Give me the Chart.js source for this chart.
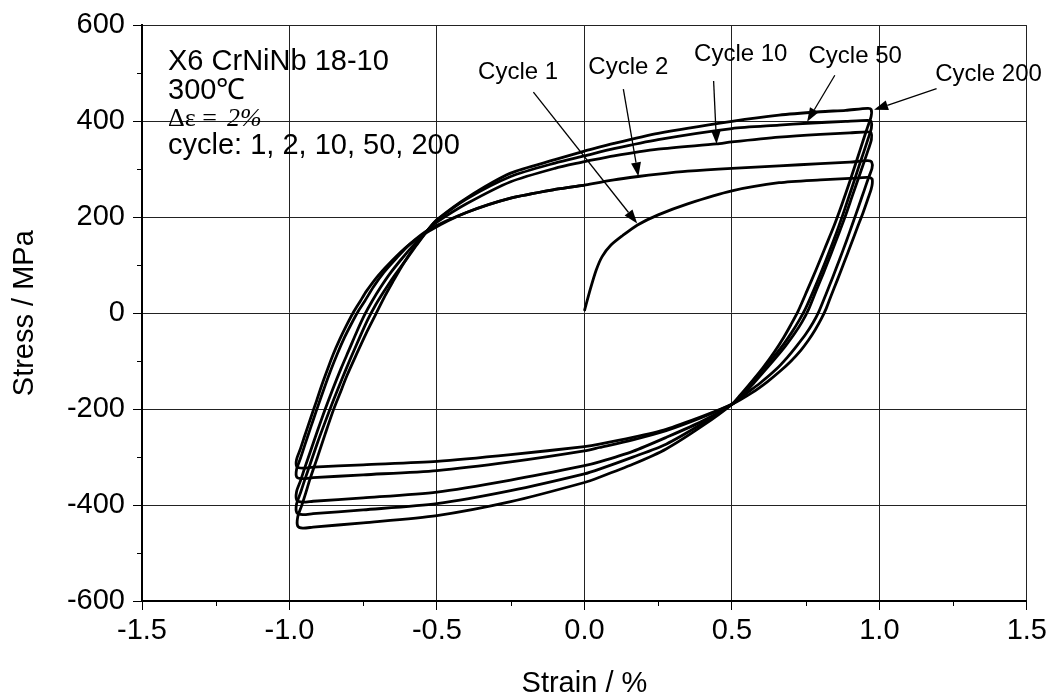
<!DOCTYPE html>
<html>
<head>
<meta charset="utf-8">
<script src="https://cdn.jsdelivr.net/npm/chart.js@4.4.1/dist/chart.umd.min.js"></script>
<style>
  html, body { margin: 0; padding: 0; background: #fff; }
  #HysteresisChart { display: block; }
</style>
</head>
<body>
<canvas id="HysteresisChart" width="1051" height="698"></canvas>
<script>
// hysteresis loops, strain in %, stress in MPa
var cycle1Strain = [0, 0.02, 0.04, 0.06, 0.09, 0.13, 0.18, 0.25, 0.35, 0.5, 0.66, 0.8, 0.9, 0.96, 0.975, 0.976, 0.972,
    0.962, 0.945, 0.925, 0.903, 0.88, 0.858, 0.836, 0.82, 0.803, 0.783, 0.76, 0.733, 0.7, 0.665, 0.62, 0.57, 0.5,
    0.4, 0.277, 0.164, 0.051, 0, -0.25, -0.5, -0.75, -0.92, -0.955, -0.975, -0.976,
    -0.963, -0.948, -0.93, -0.91, -0.89, -0.868, -0.852, -0.83, -0.808, -0.785, -0.76, -0.739, -0.7, -0.655, -0.6, -0.525,
    -0.4, -0.25, -0.1, 0];
var cycle1Stress = [5, 50, 90, 118, 142, 162, 184, 205, 228, 255, 272, 278, 281, 283, 280, 270, 258,
    240, 210, 178, 142, 105, 70, 36, 10, -12, -34, -56, -78, -100, -120, -143, -165, -190,
    -215, -242, -259, -273, -278, -295, -309, -316, -321, -323, -320, -305,
    -283, -255, -222, -186, -149, -112, -86, -55, -27, 0, 25, 46, 78, 108, 140, 172,
    210, 240, 258, 267];

var cycle2Strain = [0, 0.1, 0.182, 0.25, 0.35, 0.5, 0.66, 0.8, 0.9, 0.96, 0.974, 0.975,
    0.963, 0.948, 0.93, 0.91, 0.888, 0.865, 0.842, 0.818, 0.796, 0.775, 0.75, 0.72, 0.688, 0.65, 0.595, 0.545, 0.5,
    0.4, 0.277, 0.164, 0.051, 0, -0.25, -0.5, -0.75, -0.92, -0.955, -0.975, -0.976,
    -0.963, -0.947, -0.928, -0.907, -0.885, -0.862, -0.838, -0.813, -0.79, -0.768, -0.745, -0.715, -0.68, -0.64, -0.59, -0.525,
    -0.4, -0.25, -0.1, 0];
var cycle2Stress = [267, 278, 285, 290, 296, 302, 307, 312, 315, 318, 315, 302,
    282, 255, 223, 188, 150, 112, 75, 38, 5, -20, -44, -68, -92, -117, -146, -169, -190,
    -217, -245, -264, -280, -287, -310, -328, -337, -343, -345, -342, -326,
    -303, -273, -238, -200, -161, -122, -85, -50, -22, 3, 25, 55, 85, 113, 145, 175,
    210, 240, 258, 267];

var cycle10Strain = [0, 0.1, 0.25, 0.448, 0.5, 0.66, 0.8, 0.9, 0.96, 0.972, 0.973,
    0.963, 0.948, 0.93, 0.908, 0.885, 0.86, 0.835, 0.81, 0.785, 0.76, 0.738, 0.712, 0.682, 0.65, 0.615, 0.575, 0.538, 0.5,
    0.4, 0.277, 0.164, 0.051, 0, -0.25, -0.5, -0.75, -0.92, -0.955, -0.975, -0.976,
    -0.963, -0.948, -0.93, -0.905, -0.88, -0.853, -0.825, -0.797, -0.77, -0.745, -0.72, -0.69, -0.66, -0.62, -0.575, -0.525,
    -0.5, -0.4, -0.25, -0.1, 0];
var cycle10Stress = [316, 328, 342, 353, 357, 367, 373, 376, 378, 376, 362,
    342, 315, 283, 244, 203, 162, 122, 83, 46, 8, -18, -43, -68, -92, -117, -145, -170, -190,
    -225, -259, -288, -310, -318, -348, -373, -385, -392, -394, -390, -372,
    -350, -322, -290, -245, -202, -158, -115, -75, -36, -3, 25, 55, 82, 113, 145, 177,
    190, 228, 274, 302, 316];

var cycle50Strain = [0, 0.1, 0.25, 0.5, 0.66, 0.756, 0.886, 0.96, 0.972, 0.973,
    0.963, 0.948, 0.93, 0.906, 0.882, 0.857, 0.83, 0.803, 0.776, 0.75, 0.728, 0.703, 0.675, 0.643, 0.605, 0.565, 0.532, 0.5,
    0.4, 0.277, 0.164, 0.051, 0, -0.25, -0.5, -0.75, -0.92, -0.955, -0.975, -0.976,
    -0.963, -0.948, -0.93, -0.905, -0.878, -0.85, -0.822, -0.792, -0.763, -0.735, -0.71, -0.68, -0.648, -0.61, -0.568, -0.525,
    -0.5, -0.4, -0.25, -0.1, 0];
var cycle50Stress = [328, 343, 362, 385, 392, 396, 400, 402, 400, 386,
    366, 338, 305, 260, 216, 172, 128, 86, 46, 10, -15, -40, -65, -90, -117, -146, -170, -190,
    -230, -273, -300, -325, -335, -370, -397, -410, -418, -420, -416, -398,
    -375, -347, -315, -270, -225, -180, -137, -93, -52, -14, 15, 45, 75, 107, 143, 178,
    194, 238, 285, 313, 328];

var cycle200Strain = [0, 0.1, 0.25, 0.5, 0.66, 0.8, 0.886, 0.96, 0.972, 0.972,
    0.96, 0.945, 0.925, 0.9, 0.872, 0.845, 0.815, 0.785, 0.755, 0.725, 0.7, 0.676, 0.645, 0.605, 0.56, 0.528, 0.5,
    0.4, 0.277, 0.164, 0.051, 0, -0.25, -0.5, -0.75, -0.92, -0.955, -0.972, -0.972,
    -0.958, -0.945, -0.93, -0.905, -0.878, -0.85, -0.83, -0.805, -0.773, -0.74, -0.708, -0.677, -0.65, -0.62, -0.58, -0.525,
    -0.5, -0.4, -0.25, -0.1, 0];
var cycle200Stress = [338, 354, 375, 400, 413, 420, 423, 427, 425, 410,
    388, 360, 322, 275, 225, 180, 135, 90, 47, 5, -24, -50, -80, -114, -148, -171, -190,
    -235, -283, -315, -342, -353, -393, -422, -437, -446, -448, -444, -425,
    -400, -375, -345, -300, -250, -200, -169, -130, -86, -42, -3, 35, 65, 97, 135, 178,
    195, 240, 292, 320, 338];

var cycleNames = ['Cycle 1', 'Cycle 2', 'Cycle 10', 'Cycle 50', 'Cycle 200'];
var infoLines = ['X6 CrNiNb 18-10', '300\u2103', '\u0394\u03b5 = ', '2%', 'cycle: 1, 2, 10, 50, 200'];
var minorStrainTicks = [-1.25, -0.75, -0.25, 0.25, 0.75, 1.25];
var minorStressTicks = [-500, -300, -100, 100, 300, 500];

// where the cycle labels and their arrows sit, in axis units
var callouts = [
    { text: cycleNames[0], label: [-0.225, 503], tail: [-0.173, 461], tip: [0.179, 187] },
    { text: cycleNames[1], label: [0.149, 513], tail: [0.132, 467], tip: [0.183, 285] },
    { text: cycleNames[2], label: [0.53, 540], tail: [0.438, 484], tip: [0.448, 353] },
    { text: cycleNames[3], label: [0.918, 536], tail: [0.849, 496], tip: [0.755, 399] },
    { text: cycleNames[4], label: [1.37, 498], tail: [1.194, 468], tip: [0.982, 424] }
];

var sansFont = "'Liberation Sans', Arial, sans-serif";
var serifFont = "'Liberation Serif', 'Times New Roman', serif";

function toPoints(strain, stress) {
    return strain.map(function (s, i) { return { x: s, y: stress[i] }; });
}

function loop(name, strain, stress) {
    return {
        label: name,
        data: toPoints(strain, stress),
        showLine: true,
        borderColor: '#000',
        borderWidth: 2.8,
        pointRadius: 0,
        tension: 0.25,
        fill: false
    };
}

function drawArrow(ctx, x1, y1, x2, y2) {
    var ang = Math.atan2(y2 - y1, x2 - x1);
    var head = 14, half = 5;
    var bx = x2 - head * Math.cos(ang), by = y2 - head * Math.sin(ang);
    ctx.beginPath();
    ctx.moveTo(x1, y1);
    ctx.lineTo(bx, by);
    ctx.stroke();
    ctx.beginPath();
    ctx.moveTo(x2, y2);
    ctx.lineTo(bx + half * Math.sin(ang), by - half * Math.cos(ang));
    ctx.lineTo(bx - half * Math.sin(ang), by + half * Math.cos(ang));
    ctx.closePath();
    ctx.fill();
}

var annotationPlugin = {
    id: 'annotations',
    afterDraw: function (chart) {
        var ctx = chart.ctx, xs = chart.scales.x, ys = chart.scales.y, area = chart.chartArea;
        ctx.save();

        // minor ticks outside the frame
        ctx.strokeStyle = '#000';
        ctx.lineWidth = 1;
        minorStrainTicks.forEach(function (v) {
            var px = Math.round(xs.getPixelForValue(v)) + 0.5;
            ctx.beginPath();
            ctx.moveTo(px, area.bottom);
            ctx.lineTo(px, area.bottom + 5);
            ctx.stroke();
        });
        minorStressTicks.forEach(function (v) {
            var py = Math.round(ys.getPixelForValue(v)) + 0.5;
            ctx.beginPath();
            ctx.moveTo(area.left, py);
            ctx.lineTo(area.left - 5, py);
            ctx.stroke();
        });

        // material info block
        ctx.fillStyle = '#000';
        ctx.textAlign = 'left';
        ctx.textBaseline = 'alphabetic';
        var left = area.left + 26;
        ctx.font = '29px ' + sansFont;
        ctx.fillText(infoLines[0], left, area.top + 45);
        ctx.fillText(infoLines[1], left, area.top + 74);
        ctx.font = '26px ' + serifFont;
        ctx.fillText(infoLines[2], left, area.top + 101);
        ctx.font = 'italic 26px ' + serifFont;
        ctx.fillText(infoLines[3], left + 59, area.top + 101);
        ctx.font = '29px ' + sansFont;
        ctx.fillText(infoLines[4], left, area.top + 128.5);

        // cycle labels with arrows
        ctx.font = '24px ' + sansFont;
        ctx.textAlign = 'center';
        ctx.textBaseline = 'middle';
        ctx.lineWidth = 1.3;
        callouts.forEach(function (c) {
            ctx.fillText(c.text, xs.getPixelForValue(c.label[0]), ys.getPixelForValue(c.label[1]));
            drawArrow(ctx,
                xs.getPixelForValue(c.tail[0]), ys.getPixelForValue(c.tail[1]),
                xs.getPixelForValue(c.tip[0]), ys.getPixelForValue(c.tip[1]));
        });
        ctx.restore();
    }
};

new Chart(document.getElementById('HysteresisChart'), {
    type: 'scatter',
    data: {
        datasets: [
            loop(cycleNames[0], cycle1Strain, cycle1Stress),
            loop(cycleNames[1], cycle2Strain, cycle2Stress),
            loop(cycleNames[2], cycle10Strain, cycle10Stress),
            loop(cycleNames[3], cycle50Strain, cycle50Stress),
            loop(cycleNames[4], cycle200Strain, cycle200Stress)
        ]
    },
    options: {
        responsive: false,
        animation: false,
        layout: { padding: { top: 23, right: 23, left: 0, bottom: 0 } },
        plugins: { legend: { display: false }, tooltip: { enabled: false } },
        scales: {
            x: {
                type: 'linear', min: -1.5, max: 1.5,
                ticks: {
                    stepSize: 0.5, color: '#000', padding: 4,
                    font: { family: sansFont, size: 29 },
                    callback: function (v) { return Number(v).toFixed(1); }
                },
                grid: { color: '#222', lineWidth: 1, tickLength: 9, tickColor: '#000' },
                border: { color: '#000', width: 2 },
                title: {
                    display: true, text: 'Strain / %', color: '#000',
                    font: { family: sansFont, size: 29, lineHeight: 1.0 },
                    padding: { top: 0, bottom: 0 }
                },
                afterFit: function (s) { s.height = 97; }
            },
            y: {
                type: 'linear', min: -600, max: 600,
                ticks: {
                    stepSize: 200, color: '#000', padding: 8,
                    font: { family: sansFont, size: 29 }
                },
                grid: { color: '#222', lineWidth: 1, tickLength: 9, tickColor: '#000' },
                border: { color: '#000', width: 2 },
                title: {
                    display: true, text: 'Stress / MPa', color: '#000',
                    font: { family: sansFont, size: 29, lineHeight: 1.2 },
                    padding: { top: 8, bottom: 0 }
                },
                afterFit: function (s) { s.width = 142; }
            }
        }
    },
    plugins: [annotationPlugin]
});
</script>
</body>
</html>
